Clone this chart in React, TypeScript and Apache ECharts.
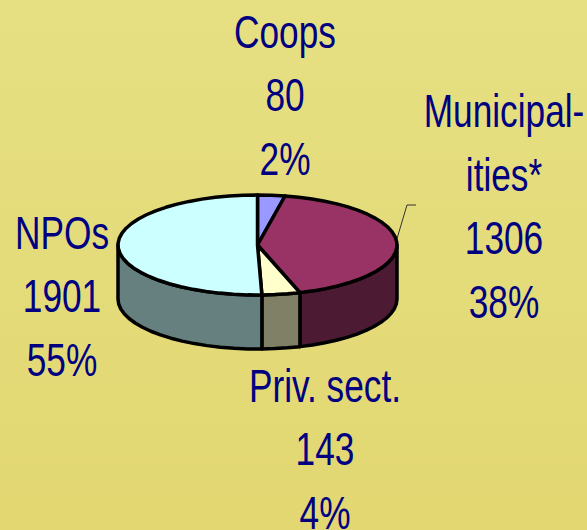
import React, { useEffect, useRef } from "react";
import * as echarts from "echarts";

// Printed labels, as they read in the picture
const sliceNames = ["Coops", "Municipal-\nities*", "Priv. sect.", "NPOs"];
const printedCounts = [80, 1306, 143, 1901];
const printedPercents = ["2%", "38%", "4%", "55%"];
// Slice sweeps as actually drawn in the picture (degrees, clockwise from 12 o'clock);
// the reference's slices do not follow the printed percentages exactly.
const drawnSweeps = [11.4, 150.9, 15.9, 181.8];

const topColors = ["#9999FF", "#993366", "#FFFFCC", "#CCFFFF"];
const sideColors = ["#666699", "#4D1A33", "#808066", "#668080"];
const labelCenters = [
  [285, 95],
  [504, 206],
  [325, 449],
  [62, 296],
];

const W = 587;
const H = 530;
const CX = 257.5;
const CY = 245;
const RX = 139.5;
const RY = 50;
const DEPTH = 54;
const total = drawnSweeps.reduce((a, b) => a + b, 0);

const point = (deg: number, dy = 0): number[] => {
  const r = (deg * Math.PI) / 180;
  return [CX + RX * Math.sin(r), CY - RY * Math.cos(r) + dy];
};
const range = (a: number, b: number): number[] => {
  const out: number[] = [];
  const n = Math.max(2, Math.ceil((b - a) / 6));
  for (let i = 0; i <= n; i++) out.push(a + ((b - a) * i) / n);
  return out;
};
const startOf = (idx: number) =>
  (drawnSweeps.slice(0, idx).reduce((a, b) => a + b, 0) / total) * 360;

const renderTop = (params: any, api: any) => {
  const i = params.dataIndex;
  const a = startOf(i);
  const b = a + (api.value(0) / total) * 360;
  const points = [[CX, CY], ...range(a, b).map((d) => point(d))];
  return {
    type: "polygon",
    shape: { points },
    style: { fill: topColors[i], stroke: "#000", lineWidth: 3.5, lineJoin: "round" },
  };
};

const renderSide = (params: any, api: any) => {
  const i = params.dataIndex;
  const a = Math.max(startOf(i), 90);
  const b = Math.min(startOf(i) + (api.value(0) / total) * 360, 270);
  if (b <= a) return null;
  const arc = range(a, b);
  const points = [
    ...arc.map((d) => point(d)),
    ...arc.slice().reverse().map((d) => point(d, DEPTH)),
  ];
  return {
    type: "polygon",
    shape: { points },
    style: { fill: sideColors[i], stroke: "#000", lineWidth: 3.5, lineJoin: "round" },
  };
};

export default function App() {
  const ref = useRef<HTMLDivElement>(null);
  useEffect(() => {
    document.body.style.margin = "0";
    document.documentElement.style.overflow = "hidden";
    const chart = echarts.init(ref.current!, null, { renderer: "svg" });
    chart.setOption({
      animation: false,
      backgroundColor: {
        type: "linear",
        x: 0,
        y: 0,
        x2: 0,
        y2: 1,
        colorStops: [
          { offset: 0, color: "#E6E083" },
          { offset: 1, color: "#E2D771" },
        ],
      },
      series: [
        {
          type: "custom",
          coordinateSystem: "none",
          silent: true,
          data: drawnSweeps.map((v) => [v]),
          renderItem: renderSide,
          z: 2,
        },
        {
          type: "custom",
          coordinateSystem: "none",
          silent: true,
          data: drawnSweeps.map((v) => [v]),
          renderItem: renderTop,
          z: 3,
        },
      ],
      graphic: [
        {
          type: "polyline",
          z: 1,
          silent: true,
          shape: {
            points: [
              [396, 242],
              [407, 205],
              [416, 205],
            ],
          },
          style: { fill: "none", stroke: "#333", lineWidth: 1 },
        },
        ...sliceNames.map((name, i) => ({
          type: "text",
          z: 5,
          silent: true,
          x: labelCenters[i][0],
          y: labelCenters[i][1],
          scaleX: 0.75,
          style: {
            text: `${name}\n${printedCounts[i]}\n${printedPercents[i]}`,
            fontFamily: "Liberation Sans",
            fontSize: 47,
            lineHeight: 63.5,
            fill: "#000080",
            textAlign: "center",
            textVerticalAlign: "middle",
          },
        })),
      ],
    });
    return () => chart.dispose();
  }, []);
  return <div ref={ref} style={{ width: W, height: H }} />;
}
